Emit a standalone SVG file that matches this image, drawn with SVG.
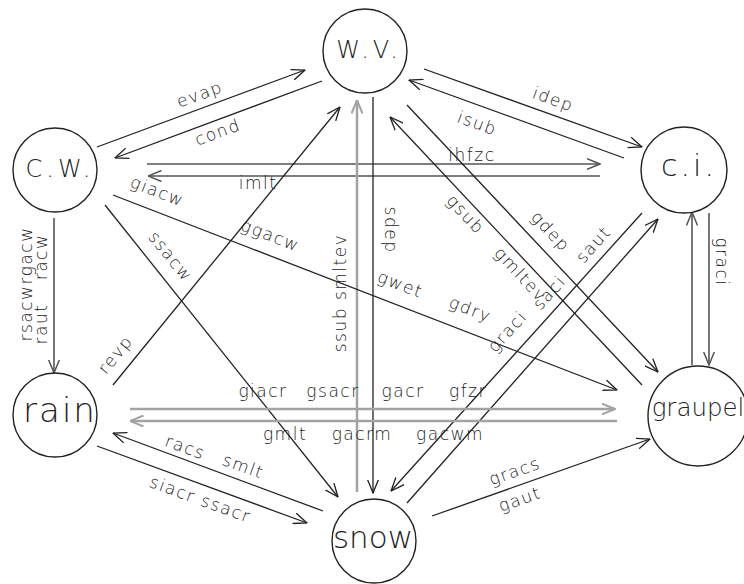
<svg xmlns="http://www.w3.org/2000/svg" width="744" height="584" viewBox="0 0 744 584">
<style>
.node circle{fill:none;stroke:#222;stroke-width:1.4}
.nt{font-family:"DejaVu Sans",sans-serif;font-weight:200;fill:#222;text-anchor:middle}
.lbl{font-family:"DejaVu Sans",sans-serif;font-weight:200;font-size:17px;letter-spacing:1.5px;fill:#222;text-anchor:middle}
.ln{stroke:#222;stroke-width:1.3;fill:none}
.gr{stroke:#a3a3a3;stroke-width:2.5;fill:none}
.mg{stroke:#555;stroke-width:1.6;fill:none}
</style>
<defs>
<marker id="ad" viewBox="0 0 14 12" refX="13.5" refY="6" markerWidth="14" markerHeight="12" markerUnits="userSpaceOnUse" orient="auto"><path d="M0,0.5 L13.5,6 L0,11.5" fill="none" stroke="#222" stroke-width="1.3"/></marker>
<marker id="am" viewBox="0 0 14 12" refX="13.5" refY="6" markerWidth="14" markerHeight="12" markerUnits="userSpaceOnUse" orient="auto"><path d="M0,0.5 L13.5,6 L0,11.5" fill="none" stroke="#555" stroke-width="1.5"/></marker>
<marker id="ag" viewBox="0 0 14 12" refX="13.5" refY="6" markerWidth="14" markerHeight="12" markerUnits="userSpaceOnUse" orient="auto"><path d="M0,0.5 L13.5,6 L0,11.5" fill="none" stroke="#a3a3a3" stroke-width="2"/></marker>
</defs>
<rect width="744" height="584" fill="#fff"/>
<g id="connectors">
<path class="ln" d="M97,147 L305,70" marker-end="url(#ad)"/>
<path class="ln" d="M322,81 L115,158" marker-end="url(#ad)"/>
<path class="ln" d="M424,69 L642,147" marker-end="url(#ad)"/>
<path class="ln" d="M624,158 L409,80" marker-end="url(#ad)"/>
<path class="mg" d="M147,164 L600,164" marker-end="url(#am)"/>
<path class="mg" d="M600,176 L148,176" marker-end="url(#am)"/>
<path class="ln" d="M373,97 L373,493" marker-end="url(#ad)"/>
<path class="gr" d="M357,492 L357,100" marker-end="url(#ag)"/>
<path class="ln" d="M407,105 L658,372" marker-end="url(#ad)"/>
<path class="ln" d="M642,385 L390,117" marker-end="url(#ad)"/>
<path class="ln" d="M642,213 L391,491" marker-end="url(#ad)"/>
<path class="ln" d="M407,503 L658,219" marker-end="url(#ad)"/>
<path class="mg" d="M692,365 L692,212" marker-end="url(#am)"/>
<path class="mg" d="M709,213 L709,365" marker-end="url(#am)"/>
<path class="ln" d="M113,195 L617,390" marker-end="url(#ad)"/>
<path class="ln" d="M105,205 L338,497" marker-end="url(#ad)"/>
<path class="ln" d="M113,385 L340,107" marker-end="url(#ad)"/>
<path class="mg" d="M54,218 L54,373" marker-end="url(#am)"/>
<path class="gr" d="M130,409 L615,409" marker-end="url(#ag)"/>
<path class="gr" d="M617,421 L130,421" marker-end="url(#ag)"/>
<path class="ln" d="M323,511 L113,433" marker-end="url(#ad)"/>
<path class="ln" d="M97,446 L307,523" marker-end="url(#ad)"/>
<path class="ln" d="M432,516 L650,439" marker-end="url(#ad)"/>
</g>
<g id="edge-labels">
<text class="lbl" transform="translate(200,95) rotate(-20)" y="5">evap</text>
<text class="lbl" transform="translate(218,133) rotate(-20)" y="5">cond</text>
<text class="lbl" transform="translate(553,100) rotate(20)" y="5">idep</text>
<text class="lbl" transform="translate(477,124) rotate(20)" y="5">isub</text>
<text class="lbl" x="472" y="161">ihfzc</text>
<text class="lbl" x="258" y="189">imlt</text>
<text class="lbl" transform="translate(157,192) rotate(21)" y="5">giacw</text>
<text class="lbl" transform="translate(270,236) rotate(21)" y="5">ggacw</text>
<text class="lbl" transform="translate(400,285) rotate(21)" y="5">gwet</text>
<text class="lbl" transform="translate(470,310) rotate(21)" y="5">gdry</text>
<text class="lbl" transform="translate(170,257) rotate(51)" y="5">ssacw</text>
<text class="lbl" transform="translate(116,355) rotate(-51)" y="5">revp</text>
<text class="lbl" transform="translate(465,215) rotate(47)" y="5">gsub</text>
<text class="lbl" transform="translate(520,275) rotate(47)" y="5">gmltev</text>
<text class="lbl" transform="translate(550,232) rotate(47)" y="5">gdep</text>
<text class="lbl" transform="translate(594,245) rotate(-48)" y="5">saut</text>
<text class="lbl" transform="translate(550,293) rotate(-48)" y="5">saci</text>
<text class="lbl" transform="translate(508,332) rotate(-48)" y="5">graci</text>
<text class="lbl" transform="translate(341,293) rotate(-90)" y="5">ssub smltev</text>
<text class="lbl" transform="translate(390,230) rotate(90)" y="5">sdep</text>
<text class="lbl" transform="translate(721,262) rotate(90)" y="5">graci</text>
<text class="lbl" transform="translate(27,284) rotate(-90)" y="5">rsacwrgacw</text>
<text class="lbl" transform="translate(42,324) rotate(-90)" y="5">raut</text>
<text class="lbl" transform="translate(42,257) rotate(-90)" y="5">racw</text>
<text class="lbl" x="263" y="397">giacr</text>
<text class="lbl" x="333" y="397">gsacr</text>
<text class="lbl" x="403" y="397">gacr</text>
<text class="lbl" x="468" y="397">gfzr</text>
<text class="lbl" x="285" y="440">gmlt</text>
<text class="lbl" x="362" y="440">gacrm</text>
<text class="lbl" x="450" y="440">gacwm</text>
<text class="lbl" transform="translate(185,448) rotate(20)" y="5">racs</text>
<text class="lbl" transform="translate(243,467) rotate(20)" y="5">smlt</text>
<text class="lbl" transform="translate(200,500) rotate(20)" y="5">siacr ssacr</text>
<text class="lbl" transform="translate(515,472) rotate(-19.5)" y="5">gracs</text>
<text class="lbl" transform="translate(520,500) rotate(-19.5)" y="5">gaut</text>
</g>
<g id="node-wv" class="node"><circle cx="365" cy="51" r="42"/><text class="nt" x="369" y="58" font-size="24" letter-spacing="4">W.V.</text></g>
<g id="node-cw" class="node"><circle cx="55" cy="170" r="42"/><text class="nt" x="60" y="177" font-size="24" letter-spacing="4">C.W.</text></g>
<g id="node-ci" class="node"><circle cx="684" cy="170" r="43"/><text class="nt" x="689" y="176" font-size="30" letter-spacing="3">c.i.</text></g>
<g id="node-rain" class="node"><circle cx="55" cy="415" r="42"/><text class="nt" x="60" y="422" font-size="34" letter-spacing="2">rain</text></g>
<g id="node-graupel" class="node"><circle cx="698" cy="416" r="50"/><text class="nt" x="698" y="416" font-size="24.5">graupel</text></g>
<g id="node-snow" class="node"><circle cx="374" cy="541" r="42"/><text class="nt" x="373" y="548" font-size="31">snow</text></g>
</svg>
